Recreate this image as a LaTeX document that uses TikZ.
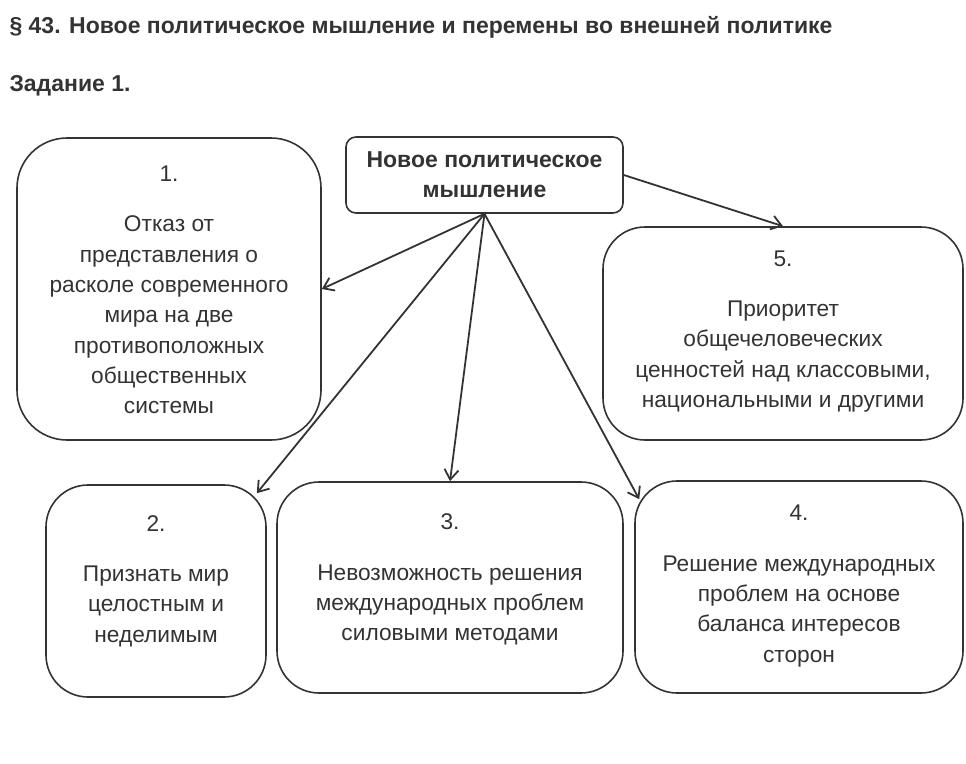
\documentclass[tikz,border=0pt]{standalone}
\usepackage{fontspec}
\setmainfont{Liberation Sans}
\usetikzlibrary{arrows.meta, positioning, calc}
\definecolor{inkgray}{HTML}{333333}

\tikzset{
  answerbox/.style={draw=inkgray, line width=1.6pt, rounded corners=42pt, inner sep=0pt},
  boxtext/.style={align=center, text=inkgray, font=\fontsize{22.7}{30.3}\selectfont, inner sep=0pt},
  topicbox/.style={draw=inkgray, line width=1.6pt, rounded corners=10pt, align=center,
    text=inkgray, font=\fontsize{23}{30}\selectfont\bfseries, inner sep=0pt},
  headline/.style={anchor=west, text=inkgray, font=\fontsize{23}{26}\selectfont\bfseries},
  linkarrow/.style={draw=inkgray, line width=1.8pt, -{Straight Barb[length=10pt,width=14pt,line width=1.8pt]}}
}

\begin{document}
\begin{tikzpicture}[x=1pt, y=-1pt]
  \useasboundingbox (0,0) rectangle (966,763);

  % Header
  \node[headline] (title) at (6,27) {§ 43. Новое политическое мышление и перемены во внешней политике};
  \node[headline] (task) at (6,86) {Задание 1.};

  % Central topic
  \node[topicbox, minimum width=277pt, minimum height=76pt] (topic) at (484.5,175)
    {Новое политическое\\мышление};

  % Answer boxes
  \node[answerbox, rounded corners=50pt, minimum width=304pt, minimum height=302pt,
    label={[boxtext, yshift=-1pt]center:{1.\\[20pt]Отказ от\\представления о\\расколе современного\\мира на две\\противоположных\\общественных\\системы}}] (b1) at (169,289) {};
  \node[answerbox, minimum width=360pt, minimum height=213pt,
    label={[boxtext, yshift=2pt]center:{5.\\[20pt]Приоритет\\общечеловеческих\\ценностей над классовыми,\\национальными и другими}}] (b5) at (783,333.5) {};
  \node[answerbox, minimum width=220pt, minimum height=212pt,
    label={[boxtext, yshift=10pt]center:{2.\\[20pt]Признать мир\\целостным и\\неделимым}}] (b2) at (156,591) {};
  \node[answerbox, minimum width=346pt, minimum height=211pt,
    label={[boxtext, yshift=8pt]center:{3.\\[20pt]Невозможность решения\\международных проблем\\силовыми методами}}] (b3) at (450,587.5) {};
  \node[answerbox, minimum width=328pt, minimum height=212pt,
    label={[boxtext, yshift=1pt]center:{4.\\[20pt]Решение международных\\проблем на основе\\баланса интересов\\сторон}}] (b4) at (799,587) {};

  % Arrow tips on the rounded corners
  \coordinate (t2) at ($(b2.north east)+(-10,9)$);
  \coordinate (t4) at ($(b4.north west)+(5,19)$);

  % Connectors
  \draw[linkarrow] (topic.east) -- (b5.north);
  \draw[linkarrow] (topic.south) -- (b1.east);
  \draw[linkarrow] (topic.south) -- (t2);
  \draw[linkarrow] (topic.south) -- (b3.north);
  \draw[linkarrow] (topic.south) -- (t4);
\end{tikzpicture}
\end{document}
